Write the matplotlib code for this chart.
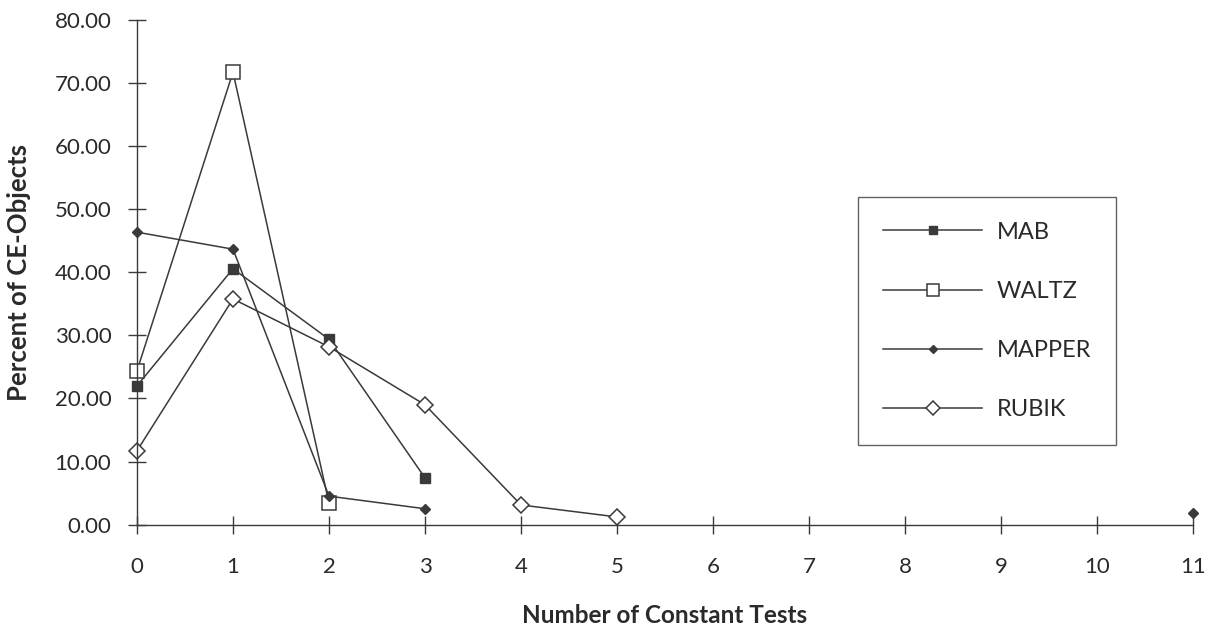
import numpy as np
import matplotlib.pyplot as plt

tests = [0, 1, 2, 3, 4, 5, 6, 7, 8, 9, 10, 11]
nan = np.nan
mab = [22.0, 40.6, 29.4, 7.4, nan, nan, nan, nan, nan, nan, nan, nan]
waltz = [24.4, 71.8, 3.4, nan, nan, nan, nan, nan, nan, nan, nan, nan]
mapper = [46.4, 43.7, 4.5, 2.5, nan, nan, nan, nan, nan, nan, nan, 1.8]
rubik = [11.7, 35.8, 28.2, 19.0, 3.1, 1.2, nan, nan, nan, nan, nan, nan]
yticks = [0, 10, 20, 30, 40, 50, 60, 70, 80]

plt.rcParams['font.family'] = ['Lato', 'DejaVu Sans']
ink = '#3a3a3a'
txt = '#2a2a2a'

fig = plt.figure(figsize=(12.09, 6.28), dpi=100)
ax = fig.add_axes([0.1133, 0.1648, 0.8735, 0.8026])

ax.plot(tests, mab, color=ink, lw=1.1, marker='s', ms=7, mfc=ink, mec=ink, label='MAB', clip_on=False)
ax.plot(tests, waltz, color=ink, lw=1.1, marker='s', ms=9.5, mfc='white', mec=ink, mew=1.1, label='WALTZ', clip_on=False)
ax.plot(tests, mapper, color=ink, lw=1.1, marker='D', ms=5, mfc=ink, mec=ink, label='MAPPER', clip_on=False)
ax.plot(tests, rubik, color=ink, lw=1.1, marker='D', ms=8, mfc='white', mec=ink, mew=1.1, label='RUBIK', clip_on=False)

ax.set_xlim(0, 11)
ax.set_ylim(0, 80)
ax.set_xticks(tests)
ax.set_yticks(yticks)
ax.set_yticklabels([f'{v:.2f}' for v in yticks])
for s in ['top', 'right']:
    ax.spines[s].set_visible(False)
for s in ['left', 'bottom']:
    ax.spines[s].set_color(ink)
    ax.spines[s].set_linewidth(1.0)
ax.tick_params(axis='both', direction='inout', length=13, width=1.0, color=ink,
               labelsize=16, labelcolor=txt)
ax.tick_params(axis='x', pad=17)
ax.tick_params(axis='y', pad=12)

ax.set_xlabel('Number of Constant Tests', fontsize=17.5, fontweight='bold', color=txt, labelpad=19)
ax.set_ylabel('Percent of CE-Objects', fontsize=18.5, fontweight='bold', color=txt)
ax.yaxis.set_label_coords(-0.100, 0.5)

leg = ax.legend(loc='upper left', bbox_to_anchor=(0.683, 0.650), frameon=True, fancybox=False,
                handlelength=4.2, labelspacing=1.62, borderpad=1.05, borderaxespad=0,
                handletextpad=0.6, markerscale=0.9, prop={'size': 17})
leg.get_frame().set_edgecolor(ink)
leg.get_frame().set_linewidth(1.0)
for t in leg.get_texts():
    t.set_color(txt)

fig.savefig('out.png', dpi=100)
